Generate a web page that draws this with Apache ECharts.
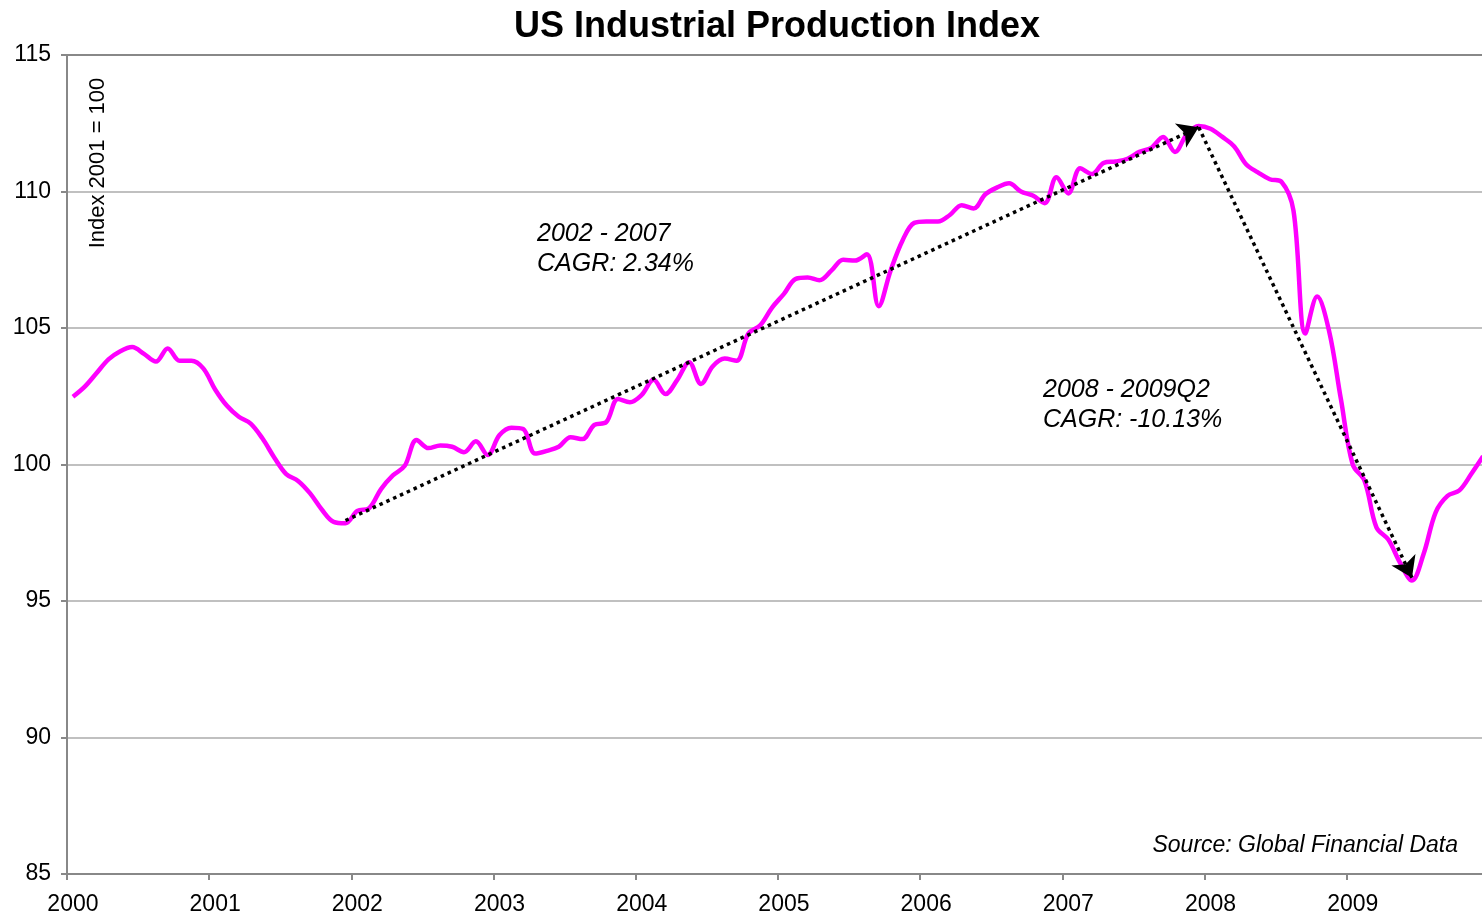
<!DOCTYPE html>
<html>
<head>
<meta charset="utf-8">
<script src="https://cdn.jsdelivr.net/npm/echarts@6/dist/echarts.min.js"></script>
<style>html,body{margin:0;padding:0;background:#fff;overflow:hidden}#chart{width:1482px;height:919px}</style>
</head>
<body>
<div id="chart"></div>
<script>
// ---- data ----
const years = ['2000','2001','2002','2003','2004','2005','2006','2007','2008','2009'];
const months = ['01','02','03','04','05','06','07','08','09','10','11','12'];
const categories = [];
years.forEach(function (y) { months.forEach(function (m) { categories.push(y + '-' + m); }); });

const production = [
  102.48,102.85,103.35,103.85,104.15,104.3,104.05,103.77,104.25,103.8,103.8,103.52,   // 2000
  102.75,102.15,101.75,101.5,100.95,100.25,99.65,99.4,98.95,98.35,97.9,97.85,          // 2001
  98.3,98.4,99.1,99.6,99.95,100.9,100.6,100.7,100.65,100.45,100.85,100.35,             // 2002
  101.08,101.35,101.3,100.4,100.5,100.65,101.0,100.93,101.45,101.55,102.4,102.28,      // 2003
  102.55,103.1,102.58,103.1,103.75,102.95,103.6,103.88,103.8,104.8,105.1,105.75,       // 2004
  106.25,106.8,106.85,106.75,107.1,107.5,107.47,107.7,105.8,107.1,108.2,108.85,        // 2005
  108.9,108.9,109.14,109.5,109.38,109.9,110.15,110.3,110.0,109.85,109.57,110.52,       // 2006
  109.93,110.85,110.64,111.05,111.1,111.2,111.45,111.6,112.0,111.45,112.1,112.4,       // 2007
  112.3,112.0,111.65,111.0,110.7,110.45,110.35,109.3,104.8,106.15,104.9,102.4,         // 2008
  100.0,99.4,97.7,97.25,96.4,95.75,96.75,98.25,98.85,99.05,99.65,100.3                 // 2009
];

const yMin = 85, yMax = 115, yStep = 5;

// CAGR arrows: [fromMonth, fromValue, toMonth, toValue]
const arrow1 = ['2001-12', 97.95, '2007-12', 112.35];
const arrow2 = ['2007-12', 112.35, '2009-06', 95.85];

const titleText = 'US Industrial Production Index';
const yAxisName = 'Index 2001 = 100';
const note1 = ['2002 - 2007', 'CAGR: 2.34%'];
const note2 = ['2008 - 2009Q2', 'CAGR: -10.13%'];
const sourceText = 'Source: Global Financial Data';

// ---- chart ----
const FONT = '"Liberation Sans", Arial, Helvetica, sans-serif';
const chart = echarts.init(document.getElementById('chart'), null, {renderer: 'canvas'});

function arrowPair(a) {
  return [{coord: [a[0], a[1]]}, {coord: [a[2], a[3]]}];
}
function noteText(x, y, lines) {
  return lines.map(function (t, i) {
    return {
      type: 'text', x: x, y: y + i * 30, z: 100,
      style: {text: t, fill: '#000', font: 'italic 25px ' + FONT, textAlign: 'left', textVerticalAlign: 'middle'}
    };
  });
}

const option = {
  animation: false,
  backgroundColor: '#fff',
  textStyle: {fontFamily: FONT},
  title: {
    text: titleText, left: 509, top: 4,
    textStyle: {fontSize: 36, fontWeight: 'bold', color: '#000', fontFamily: FONT}
  },
  grid: {left: 67, width: 1422, top: 55, bottom: 45, containLabel: false, outerBoundsMode: 'none'},
  xAxis: {
    type: 'category', data: categories, boundaryGap: true,
    axisLine: {show: true, lineStyle: {color: '#888', width: 2}},
    axisTick: {show: true, interval: 11, length: 6, lineStyle: {color: '#888', width: 2}},
    axisLabel: {interval: 11, margin: 19, fontSize: 23, color: '#000', fontFamily: FONT,
      formatter: function (v) { return v.slice(0, 4); }},
    splitLine: {show: false}
  },
  yAxis: {
    type: 'value', min: yMin, max: yMax, interval: yStep,
    axisLine: {show: true, lineStyle: {color: '#888', width: 2}},
    axisTick: {show: true, length: 6, lineStyle: {color: '#888', width: 2}},
    axisLabel: {margin: 16, fontSize: 23, color: '#000', fontFamily: FONT},
    splitLine: {show: true, lineStyle: {color: ['#c0c0c0','#c0c0c0','#c0c0c0','#c0c0c0','#c0c0c0','#c0c0c0','#888'], width: 2}}
  },
  series: [{
    type: 'line', data: production, smooth: 0.35, symbol: 'none',
    lineStyle: {color: '#ff00ff', width: 4.5}, z: 3,
    markLine: {
      silent: true, symbol: ['none', 'arrow'], symbolSize: 20,
      label: {show: false},
      lineStyle: {color: '#000', width: 3.5, type: [3.5, 4], cap: 'butt'},
      data: [arrowPair(arrow1), arrowPair(arrow2)]
    }
  }],
  graphic: [].concat(
    noteText(537, 234, note1),
    noteText(1043, 390, note2),
    [{
      type: 'text', x: 1458, y: 846, z: 100,
      style: {text: sourceText, fill: '#000', font: 'italic 23px ' + FONT, textAlign: 'right', textVerticalAlign: 'middle'}
    }, {
      type: 'text', x: 98, y: 163, rotation: Math.PI / 2, z: 100,
      style: {text: yAxisName, fill: '#000', font: '22px ' + FONT, textAlign: 'center', textVerticalAlign: 'middle'}
    }]
  )
};
chart.setOption(option);
</script>
</body>
</html>
